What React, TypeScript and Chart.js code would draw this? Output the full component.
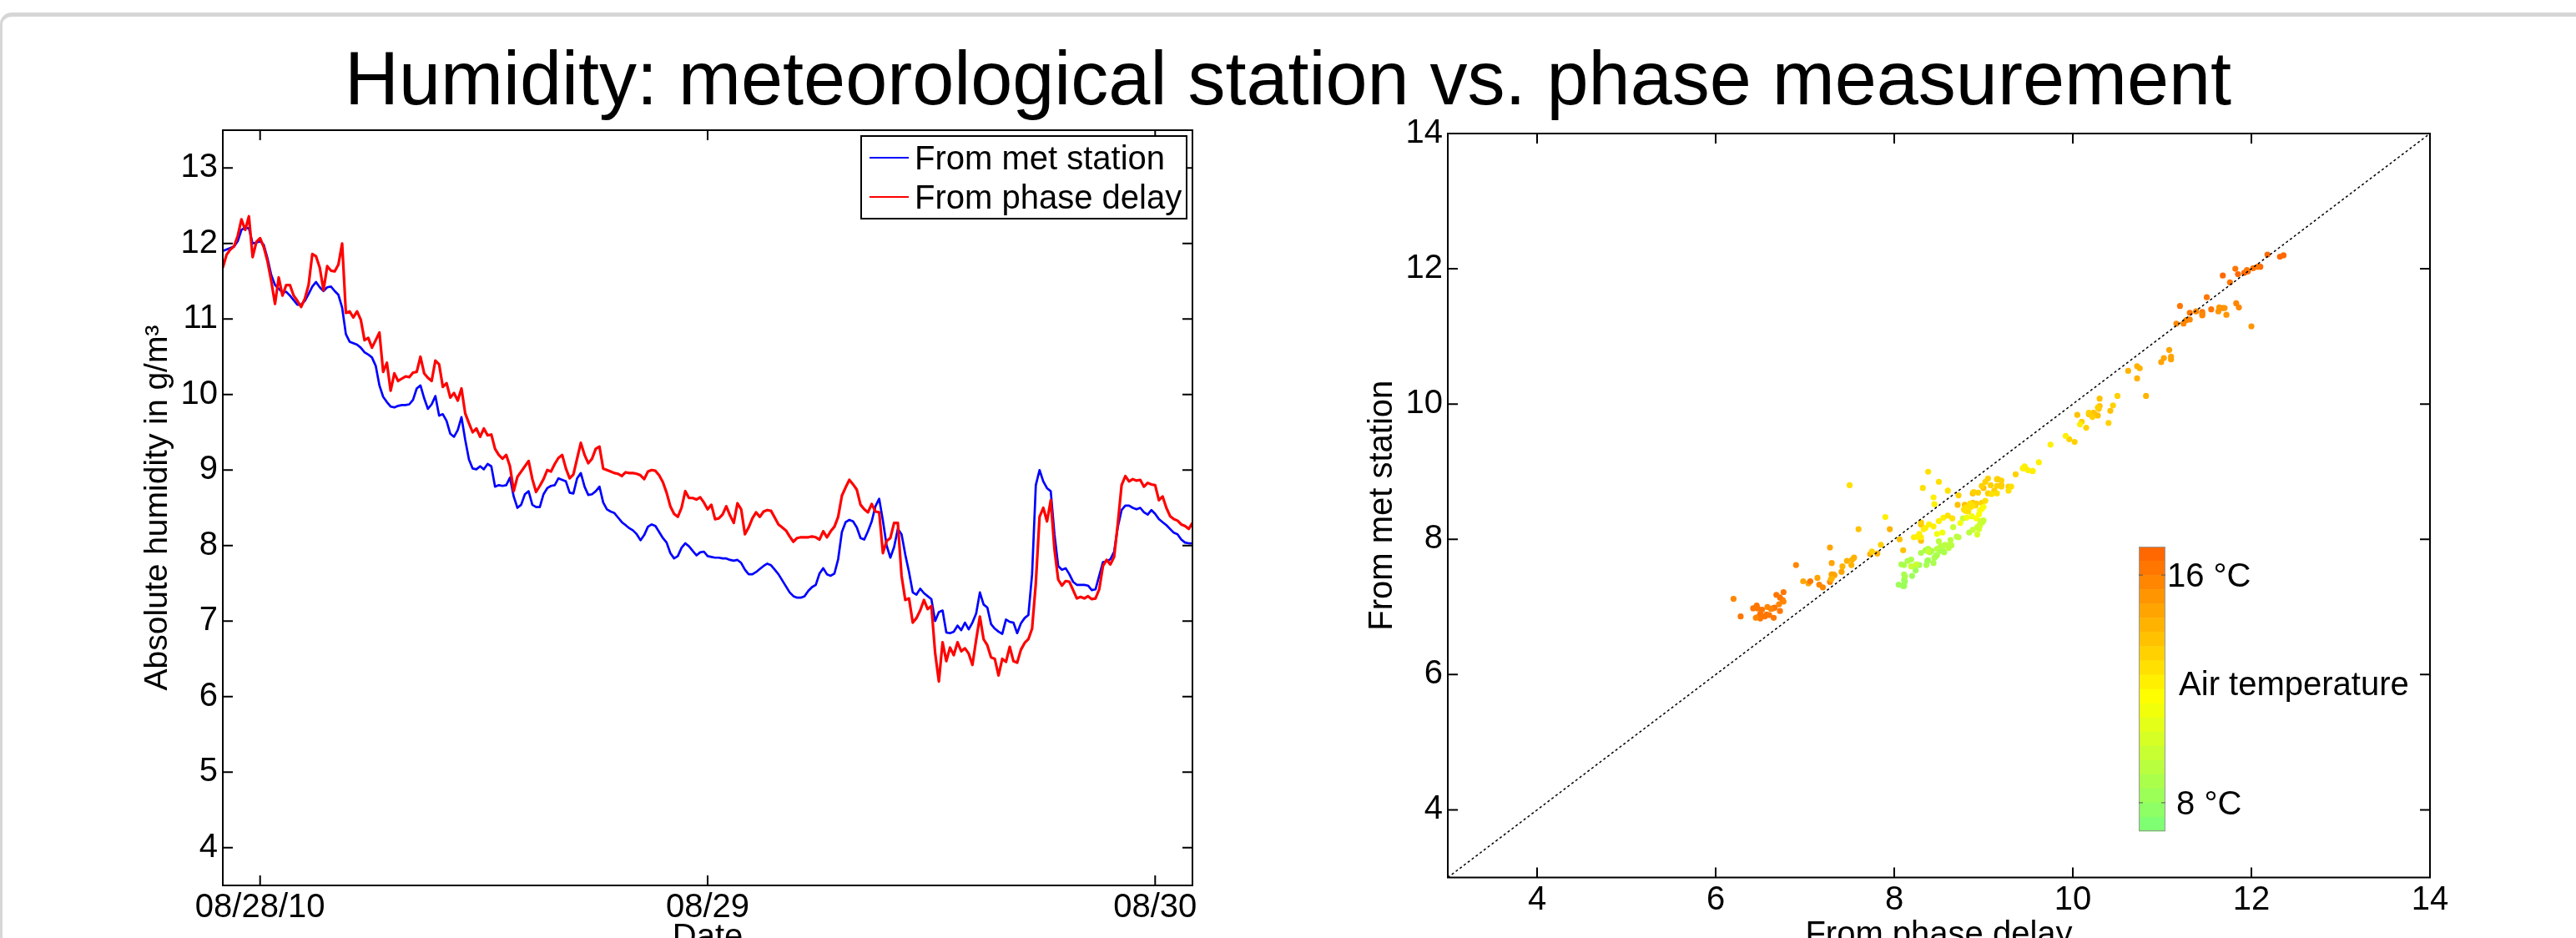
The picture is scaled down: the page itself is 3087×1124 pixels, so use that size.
import React, { useEffect, useRef } from 'react';
import { Chart, registerables } from 'chart.js';

Chart.register(...registerables);

// ---------------- data ----------------
// Samples every 0.2 h, starting 2 h before 08/28/10 00:00
const SAMPLE_START_HOUR = -2;
const SAMPLE_STEP_HOURS = 0.2;

// Absolute humidity from the meteorological station (g/m^3)
const metStation = [
  11.90, 11.92, 11.94, 11.96, 12.03, 12.18, 12.21, 12.20, 12.00, 12.01,
  12.03, 11.98, 11.80, 11.58, 11.45, 11.40, 11.35, 11.36, 11.31, 11.25,
  11.19, 11.19, 11.24, 11.33, 11.43, 11.49, 11.42, 11.37, 11.42, 11.43,
  11.37, 11.32, 11.15, 10.80, 10.70, 10.68, 10.66, 10.62, 10.56, 10.53,
  10.49, 10.38, 10.12, 9.97, 9.90, 9.84, 9.83, 9.85, 9.86, 9.86,
  9.87, 9.93, 10.08, 10.12, 9.95, 9.81, 9.87, 9.98, 9.72, 9.74,
  9.65, 9.48, 9.44, 9.53, 9.70, 9.40, 9.14, 9.02, 9.01, 9.05,
  9.01, 9.08, 9.05, 8.78, 8.80, 8.79, 8.80, 8.90, 8.65, 8.50,
  8.54, 8.68, 8.72, 8.54, 8.51, 8.51, 8.68, 8.76, 8.79, 8.80,
  8.89, 8.87, 8.85, 8.70, 8.69, 8.89, 8.96, 8.78, 8.67, 8.68,
  8.72, 8.78, 8.57, 8.48, 8.45, 8.43, 8.37, 8.31, 8.27, 8.23,
  8.20, 8.15, 8.07, 8.14, 8.25, 8.28, 8.26, 8.18, 8.10, 8.04,
  7.90, 7.83, 7.86, 7.97, 8.03, 7.99, 7.93, 7.87, 7.91, 7.92,
  7.86, 7.85, 7.84, 7.84, 7.83, 7.83, 7.81, 7.80, 7.81, 7.77,
  7.68, 7.62, 7.62, 7.65, 7.69, 7.73, 7.76, 7.74, 7.68, 7.62,
  7.54, 7.46, 7.38, 7.33, 7.31, 7.31, 7.33, 7.40, 7.45, 7.48,
  7.63, 7.70, 7.62, 7.60, 7.63, 7.82, 8.18, 8.31, 8.34, 8.32,
  8.24, 8.10, 8.08, 8.19, 8.32, 8.52, 8.62, 8.33, 8.00, 7.84,
  7.98, 8.22, 8.15, 7.88, 7.65, 7.38, 7.35, 7.43, 7.37, 7.33,
  7.29, 7.00, 7.12, 7.14, 6.85, 6.84, 6.86, 6.94, 6.88, 6.98,
  6.89, 6.98, 7.10, 7.38, 7.22, 7.18, 6.96, 6.90, 6.86, 6.83,
  7.02, 6.99, 6.98, 6.84, 6.97, 7.04, 7.08, 7.62, 8.80, 9.00,
  8.85, 8.76, 8.72, 8.15, 7.73, 7.68, 7.70, 7.62, 7.52, 7.48,
  7.48, 7.48, 7.47, 7.41, 7.42, 7.60, 7.78, 7.79, 7.82, 7.92,
  8.25, 8.47, 8.53, 8.53, 8.50, 8.48, 8.50, 8.44, 8.41, 8.47,
  8.42, 8.35, 8.31, 8.27, 8.22, 8.17, 8.15, 8.08, 8.04, 8.03,
  8.03,
];

// Absolute humidity derived from the phase delay (g/m^3)
const phaseDelay = [
  11.68, 11.85, 11.92, 11.96, 12.10, 12.32, 12.18, 12.36, 11.82, 12.02,
  12.07, 11.95, 11.76, 11.50, 11.20, 11.55, 11.31, 11.45, 11.45, 11.31,
  11.24, 11.16, 11.27, 11.45, 11.86, 11.83, 11.68, 11.38, 11.70, 11.64,
  11.63, 11.72, 12.00, 11.08, 11.10, 11.02, 11.10, 10.99, 10.72, 10.75,
  10.62, 10.72, 10.82, 10.30, 10.42, 10.05, 10.28, 10.18, 10.21, 10.24,
  10.23, 10.29, 10.30, 10.50, 10.28, 10.22, 10.18, 10.45, 10.40, 10.10,
  10.15, 9.96, 10.02, 9.92, 10.08, 9.75, 9.62, 9.50, 9.55, 9.44,
  9.55, 9.46, 9.47, 9.28, 9.20, 9.15, 9.20, 9.05, 8.72, 8.91,
  8.98, 9.05, 9.12, 8.88, 8.71, 8.79, 8.88, 9.00, 8.98, 9.08,
  9.16, 9.20, 9.02, 8.89, 8.94, 9.15, 9.36, 9.20, 9.09, 9.15,
  9.28, 9.31, 9.02, 9.00, 8.98, 8.96, 8.95, 8.92, 8.97, 8.96,
  8.96, 8.95, 8.93, 8.88, 8.98, 9.00, 8.99, 8.93, 8.84, 8.70,
  8.52, 8.42, 8.38, 8.50, 8.72, 8.63, 8.63, 8.61, 8.64, 8.57,
  8.48, 8.54, 8.35, 8.36, 8.41, 8.52, 8.40, 8.30, 8.56, 8.48,
  8.15, 8.24, 8.36, 8.44, 8.38, 8.45, 8.47, 8.46, 8.37, 8.28,
  8.24, 8.20, 8.12, 8.05, 8.10, 8.11, 8.11, 8.11, 8.12, 8.11,
  8.08, 8.19, 8.11, 8.19, 8.25, 8.38, 8.66, 8.77, 8.87, 8.81,
  8.74, 8.54, 8.48, 8.44, 8.55, 8.45, 8.44, 7.90, 8.06, 8.10,
  8.30, 8.30, 7.60, 7.28, 7.30, 6.98, 7.04, 7.14, 7.28, 7.16,
  7.20, 6.58, 6.20, 6.72, 6.47, 6.65, 6.55, 6.72, 6.60, 6.64,
  6.57, 6.42, 6.75, 7.06, 6.76, 6.68, 6.52, 6.50, 6.28, 6.50,
  6.46, 6.66, 6.47, 6.45, 6.62, 6.71, 6.76, 6.90, 7.50, 8.38,
  8.50, 8.32, 8.60, 7.95, 7.55, 7.47, 7.53, 7.52, 7.41, 7.30,
  7.32, 7.30, 7.33, 7.29, 7.30, 7.42, 7.73, 7.81, 7.75, 7.85,
  8.30, 8.80, 8.92, 8.85, 8.88, 8.86, 8.87, 8.78, 8.83, 8.81,
  8.80, 8.60, 8.65, 8.50, 8.39, 8.35, 8.33, 8.28, 8.26, 8.22,
  8.30,
];

// Air temperature (°C), one value per hour from -2 h to +50 h
const airTempHourly = [
  16.6, 16.6, 16.4, 16.0, 15.8, 15.7, 15.3, 14.6, 14.2, 13.8,
  13.6, 13.4, 13.2, 12.3, 12.2, 13.0, 13.4, 13.5, 13.4, 13.2,
  12.5, 11.5, 10.2, 9.6, 9.3, 9.1, 9.0, 8.8, 8.6, 8.5,
  8.3, 8.2, 8.5, 9.5, 11.0, 12.3, 13.5, 14.8, 15.6, 16.1,
  16.3, 16.3, 16.2, 15.5, 12.9, 14.0, 14.6, 14.4, 13.0, 12.7,
  12.5, 12.4, 12.3,
];

const dateTickHours = [0, 24, 48];
const dateTickLabels = ['08/28/10', '08/29', '08/30'];
const humidityTicks = [4, 5, 6, 7, 8, 9, 10, 11, 12, 13];
const scatterTicks = [4, 6, 8, 10, 12, 14];
const identityLine = [3, 14];
const colorbarRange = [7, 17];
const colorbarTickTemps = [16, 8];
const colorbarTickLabels = ['16 °C', ' 8 °C'];
const colorbarTitle = ' Air temperature';
const colorbarTitleTemp = 12.2;

// colormap (position 0 = coldest .. 1 = warmest)
const colormapStops = [
  [0, 120, 255, 120],
  [0.47, 255, 255, 0],
  [1, 255, 96, 0],
];
const COLORBAR_BANDS = 20;

// ---------------- helpers ----------------
const FONT = '"Liberation Sans", Arial, Helvetica, sans-serif';

function cmap(t: number): string {
  for (let i = 1; i < colormapStops.length; i++) {
    const a = colormapStops[i - 1];
    const b = colormapStops[i];
    if (t <= b[0]) {
      const f = (t - a[0]) / (b[0] - a[0]);
      const r = Math.round(a[1] + (b[1] - a[1]) * f);
      const g = Math.round(a[2] + (b[2] - a[2]) * f);
      const bl = Math.round(a[3] + (b[3] - a[3]) * f);
      return `rgb(${r},${g},${bl})`;
    }
  }
  const l = colormapStops[colormapStops.length - 1];
  return `rgb(${l[1]},${l[2]},${l[3]})`;
}
function bandColor(idx: number) {
  return cmap((idx + 0.5) / COLORBAR_BANDS);
}
function tempColor(T: number) {
  const t = (T - colorbarRange[0]) / (colorbarRange[1] - colorbarRange[0]);
  const idx = Math.max(0, Math.min(COLORBAR_BANDS - 1, Math.floor(t * COLORBAR_BANDS)));
  return bandColor(idx);
}

const hourOf = (i: number) => SAMPLE_START_HOUR + i * SAMPLE_STEP_HOURS;

const framePlugin = {
  id: 'matlabFrame',
  afterDatasetsDraw(chart: any) {
    const { ctx, chartArea: a, scales } = chart;
    ctx.save();
    ctx.strokeStyle = '#000';
    ctx.lineWidth = 2;
    ctx.strokeRect(a.left, a.top, a.right - a.left, a.bottom - a.top);
    const tl = 12;
    ctx.beginPath();
    scales.x.ticks.forEach((t: any) => {
      const px = scales.x.getPixelForValue(t.value);
      ctx.moveTo(px, a.bottom);
      ctx.lineTo(px, a.bottom - tl);
      ctx.moveTo(px, a.top);
      ctx.lineTo(px, a.top + tl);
    });
    scales.y.ticks.forEach((t: any) => {
      const py = scales.y.getPixelForValue(t.value);
      ctx.moveTo(a.left, py);
      ctx.lineTo(a.left + tl, py);
      ctx.moveTo(a.right, py);
      ctx.lineTo(a.right - tl, py);
    });
    ctx.stroke();
    ctx.restore();
  },
};

const legendPlugin = {
  id: 'matlabLegend',
  afterDraw(chart: any) {
    const { ctx, chartArea: a } = chart;
    const w = 390;
    const h = 99;
    const x0 = a.right - 7 - w;
    const y0 = a.top + 7;
    ctx.save();
    ctx.fillStyle = '#fff';
    ctx.fillRect(x0, y0, w, h);
    ctx.strokeStyle = '#000';
    ctx.lineWidth = 2;
    ctx.strokeRect(x0, y0, w, h);
    const items = [chart.data.datasets[0], chart.data.datasets[1]];
    ctx.font = `40px ${FONT}`;
    ctx.textBaseline = 'alphabetic';
    ctx.textAlign = 'left';
    items.forEach((ds: any, k: number) => {
      const ly = y0 + 26 + k * 47;
      ctx.strokeStyle = ds.borderColor;
      ctx.lineWidth = 2;
      ctx.beginPath();
      ctx.moveTo(x0 + 10, ly);
      ctx.lineTo(x0 + 57, ly);
      ctx.stroke();
      ctx.fillStyle = '#000';
      ctx.fillText(ds.label, x0 + 64, ly + 14);
    });
    ctx.restore();
  },
};

const colorbarPlugin = {
  id: 'tempColorbar',
  afterDraw(chart: any) {
    const { ctx, chartArea: a } = chart;
    const x0 = a.left + 828;
    const w = 32;
    const y0 = a.top + 495;
    const h = 341;
    const bandH = h / COLORBAR_BANDS;
    ctx.save();
    for (let i = 0; i < COLORBAR_BANDS; i++) {
      ctx.fillStyle = bandColor(COLORBAR_BANDS - 1 - i);
      ctx.fillRect(x0, y0 + i * bandH, w, bandH + 0.5);
    }
    ctx.strokeStyle = '#9a9a9a';
    ctx.lineWidth = 1;
    ctx.strokeRect(x0 + 0.5, y0 + 0.5, w - 1, h - 1);
    const tToY = (T: number) =>
      y0 + ((colorbarRange[1] - T) / (colorbarRange[1] - colorbarRange[0])) * h;
    ctx.strokeStyle = '#555';
    ctx.beginPath();
    colorbarTickTemps.forEach((T) => {
      const y = tToY(T);
      ctx.moveTo(x0 + w, y);
      ctx.lineTo(x0 + w - 5, y);
      ctx.moveTo(x0, y);
      ctx.lineTo(x0 + 5, y);
    });
    ctx.stroke();
    ctx.fillStyle = '#000';
    ctx.font = `40px ${FONT}`;
    ctx.textAlign = 'left';
    ctx.textBaseline = 'alphabetic';
    colorbarTickTemps.forEach((T, k) => {
      ctx.fillText(colorbarTickLabels[k], x0 + w + 2, tToY(T) + 14);
    });
    ctx.fillText(colorbarTitle, x0 + w + 5, tToY(colorbarTitleTemp) + 14);
    ctx.restore();
  },
};

function axisFont(size: number) {
  return { family: FONT, size, weight: 'normal' as const };
}

function makeLeftConfig(): any {
  return {
    type: 'line',
    data: {
      datasets: [
        {
          label: 'From met station',
          data: metStation.map((v, i) => ({ x: hourOf(i), y: v })),
          borderColor: '#0000ff',
          borderWidth: 2.7,
          pointRadius: 0,
          tension: 0,
          borderJoinStyle: 'round',
          order: 2,
        },
        {
          label: 'From phase delay',
          data: phaseDelay.map((v, i) => ({ x: hourOf(i), y: v })),
          borderColor: '#ff0000',
          borderWidth: 3.2,
          pointRadius: 0,
          tension: 0,
          borderJoinStyle: 'round',
          order: 1,
        },
      ],
    },
    options: {
      animation: false,
      responsive: false,
      maintainAspectRatio: false,
      devicePixelRatio: 1,
      layout: { padding: { top: 156, right: 31, left: 0, bottom: 0 } },
      plugins: { legend: { display: false }, tooltip: { enabled: false } },
      scales: {
        x: {
          type: 'linear',
          min: -2,
          max: 50,
          afterBuildTicks: (s: any) => {
            s.ticks = dateTickHours.map((v) => ({ value: v }));
          },
          afterFit: (s: any) => {
            s.height = 1200 - 1061;
          },
          grid: { display: false, drawTicks: false, tickLength: 0 },
          border: { display: false },
          ticks: {
            color: '#000',
            font: axisFont(40),
            padding: 3,
            maxRotation: 0,
            minRotation: 0,
            autoSkip: false,
            callback: (v: any) => {
              const k = dateTickHours.indexOf(Number(v));
              return k >= 0 ? dateTickLabels[k] : '';
            },
          },
          title: {
            display: true,
            text: 'Date',
            color: '#000',
            font: axisFont(40),
            padding: { top: 0, bottom: 52 },
          },
        },
        y: {
          type: 'linear',
          min: 3.5,
          max: 13.5,
          afterBuildTicks: (s: any) => {
            s.ticks = humidityTicks.map((v) => ({ value: v }));
          },
          afterFit: (s: any) => {
            s.width = 267;
          },
          grid: { display: false, drawTicks: false, tickLength: 0 },
          border: { display: false },
          ticks: {
            color: '#000',
            font: axisFont(40),
            padding: 6,
            callback: (v: any) => String(v),
          },
          title: {
            display: true,
            text: 'Absolute humidity in g/m³',
            color: '#000',
            font: axisFont(39),
            padding: { top: 166, bottom: 0 },
          },
        },
      },
    },
    plugins: [framePlugin, legendPlugin],
  };
}

function makeRightConfig(): any {
  const pairs = phaseDelay.map((p, i) => ({ x: p, y: metStation[i] }));
  const colors = phaseDelay.map((_, i) => {
    const idx = Math.round(i * SAMPLE_STEP_HOURS);
    return tempColor(airTempHourly[Math.min(idx, airTempHourly.length - 1)]);
  });
  return {
    type: 'scatter',
    data: {
      datasets: [
        {
          type: 'line',
          label: '1:1',
          data: identityLine.map((v) => ({ x: v, y: v })),
          borderColor: '#000',
          borderWidth: 1.5,
          borderDash: [3, 3],
          pointRadius: 0,
          order: 0,
        },
        {
          type: 'scatter',
          label: 'Humidity pairs',
          data: pairs,
          pointBackgroundColor: colors,
          pointBorderColor: colors,
          pointBorderWidth: 0,
          pointRadius: 3.6,
          order: 1,
        },
      ],
    },
    options: {
      animation: false,
      responsive: false,
      maintainAspectRatio: false,
      devicePixelRatio: 1,
      layout: { padding: { top: 160, right: 68, left: 0, bottom: 0 } },
      plugins: { legend: { display: false }, tooltip: { enabled: false } },
      scales: {
        x: {
          type: 'linear',
          min: 3,
          max: 14,
          afterBuildTicks: (s: any) => {
            s.ticks = scatterTicks.map((v) => ({ value: v }));
          },
          afterFit: (s: any) => {
            s.height = 1200 - 1051.5;
          },
          grid: { display: false, drawTicks: false, tickLength: 0 },
          border: { display: false },
          ticks: {
            color: '#000',
            font: axisFont(40),
            padding: 3,
            maxRotation: 0,
            minRotation: 0,
            autoSkip: false,
            callback: (v: any) => String(v),
          },
          title: {
            display: true,
            text: 'From phase delay',
            color: '#000',
            font: axisFont(40),
            padding: { top: 0, bottom: 55 },
          },
        },
        y: {
          type: 'linear',
          min: 3,
          max: 14,
          afterBuildTicks: (s: any) => {
            s.ticks = scatterTicks.map((v) => ({ value: v }));
          },
          afterFit: (s: any) => {
            s.width = 195;
          },
          grid: { display: false, drawTicks: false, tickLength: 0 },
          border: { display: false },
          ticks: {
            color: '#000',
            font: axisFont(40),
            padding: 6,
            callback: (v: any) => String(v),
          },
          title: {
            display: true,
            text: 'From met station',
            color: '#000',
            font: axisFont(40),
            padding: { top: 93, bottom: 0 },
          },
        },
      },
    },
    plugins: [framePlugin, colorbarPlugin],
  };
}

export default function App() {
  const leftRef = useRef<HTMLCanvasElement>(null);
  const rightRef = useRef<HTMLCanvasElement>(null);

  useEffect(() => {
    const left = new Chart(leftRef.current as HTMLCanvasElement, makeLeftConfig());
    const right = new Chart(rightRef.current as HTMLCanvasElement, makeRightConfig());
    return () => {
      left.destroy();
      right.destroy();
    };
  }, []);

  return (
    <div
      style={{
        position: 'absolute',
        left: 0,
        top: 0,
        width: 3087,
        height: 1124,
        overflow: 'hidden',
        background: '#fff',
      }}
    >
      <div
        style={{
          position: 'absolute',
          left: 0,
          top: 15,
          width: 3300,
          height: 1300,
          borderTop: '5px solid #d6d6d6',
          borderLeft: '3px solid #d6d6d6',
          borderTopLeftRadius: 14,
          boxSizing: 'border-box',
        }}
      />
      <div
        style={{
          position: 'absolute',
          left: 0,
          top: 49,
          width: 3087,
          textAlign: 'center',
          fontFamily: FONT,
          fontSize: 90,
          lineHeight: '90px',
          color: '#000',
          whiteSpace: 'nowrap',
        }}
      >
        Humidity: meteorological station vs. phase measurement
      </div>
      <canvas
        ref={leftRef}
        width={1460}
        height={1200}
        style={{ position: 'absolute', left: 0, top: 0 }}
      />
      <canvas
        ref={rightRef}
        width={1440}
        height={1200}
        style={{ position: 'absolute', left: 1540, top: 0 }}
      />
    </div>
  );
}
